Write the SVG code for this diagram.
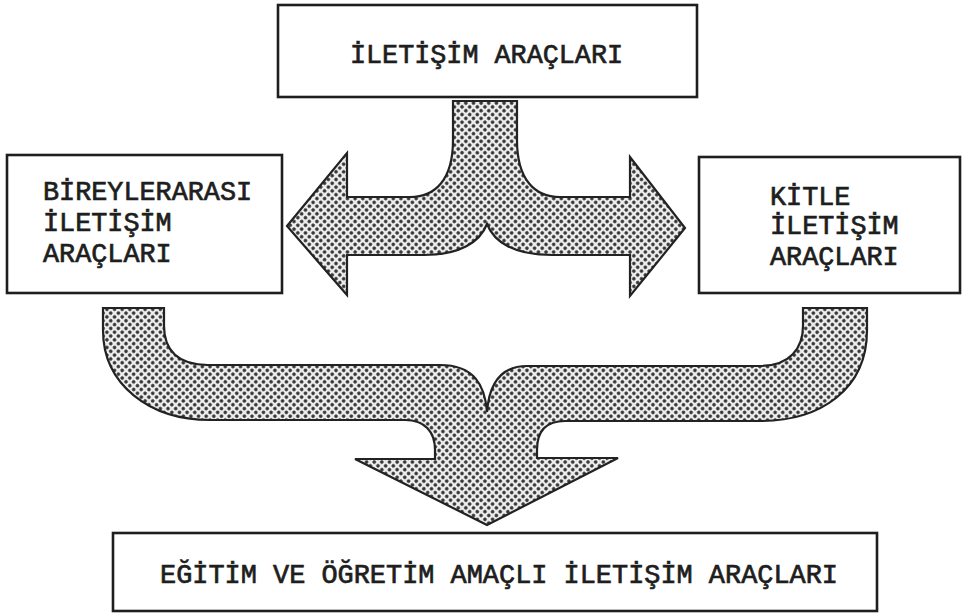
<svg xmlns="http://www.w3.org/2000/svg" width="963" height="615" viewBox="0 0 963 615">
  <style>
    .box { fill: #ffffff; stroke: #1e1e1e; stroke-width: 2.6; }
    .lbl { font-family: "Liberation Mono", "DejaVu Sans Mono", monospace; font-size: 26.8px; font-weight: normal; fill: #1e1e1e; stroke: #1e1e1e; stroke-width: 0.7; }
    .arrow { fill: url(#dots); stroke: #222222; stroke-width: 2.2; stroke-linejoin: miter; }
  </style>
  <defs>
    <pattern id="dots" width="5.4" height="5.4" patternUnits="userSpaceOnUse" patternTransform="rotate(45)">
      <rect width="5.4" height="5.4" fill="#eeeeee"/>
      <circle cx="2.7" cy="2.7" r="1.8" fill="#333333"/>
    </pattern>
  </defs>
  <rect width="963" height="615" fill="#ffffff"/>

  <g id="connectors">
    <path id="top-arrow" class="arrow" d="M453,101 L517,101 L517,140 C517,180 535,197 560,197 L630,197 L630,157 L685,228 L630,296 L630,255 L552,255 C514,255 494,242 487,224 C480,242 460,255 424,255 L347,255 L347,295 L287,226 L347,153 L347,197 L410,197 C435,197 453,180 453,140 Z"/>
    <path id="bottom-arrow" class="arrow" d="M103,308 L164,308 L164,326 C164,350 178,365 208,365 L440,365 C474,365 485,385 487,412 C489,385 500,366 527,366 L760,366 C790,366 803,348 803,326 L803,308 L867,308 L867,330 C867,390 820,421 760,421 L565,421 C545,421 537,432 537,450 L537,458 L618,458 L487,525 L355,459 L435,459 L435,450 C435,432 425,420 405,420 L210,420 C150,420 103,385 103,330 Z"/>
  </g>

  <g id="node-top">
    <rect class="box" x="278" y="5" width="419" height="92"/>
    <text class="lbl" x="350" y="63" textLength="273" lengthAdjust="spacingAndGlyphs">İLETİŞİM ARAÇLARI</text>
  </g>

  <g id="node-left">
    <rect class="box" x="7" y="155" width="275" height="138"/>
    <text class="lbl" x="43" y="200">BİREYLERARASI</text>
    <text class="lbl" x="43" y="231">İLETİŞİM</text>
    <text class="lbl" x="43" y="262">ARAÇLARI</text>
  </g>

  <g id="node-right">
    <rect class="box" x="699" y="157" width="261" height="136"/>
    <text class="lbl" x="770" y="205">KİTLE</text>
    <text class="lbl" x="770" y="234">İLETİŞİM</text>
    <text class="lbl" x="770" y="265">ARAÇLARI</text>
  </g>

  <g id="node-bottom">
    <rect class="box" x="113" y="533" width="764" height="78"/>
    <text class="lbl" x="160" y="583" textLength="678" lengthAdjust="spacingAndGlyphs">EĞİTİM VE ÖĞRETİM AMAÇLI İLETİŞİM ARAÇLARI</text>
  </g>
</svg>
